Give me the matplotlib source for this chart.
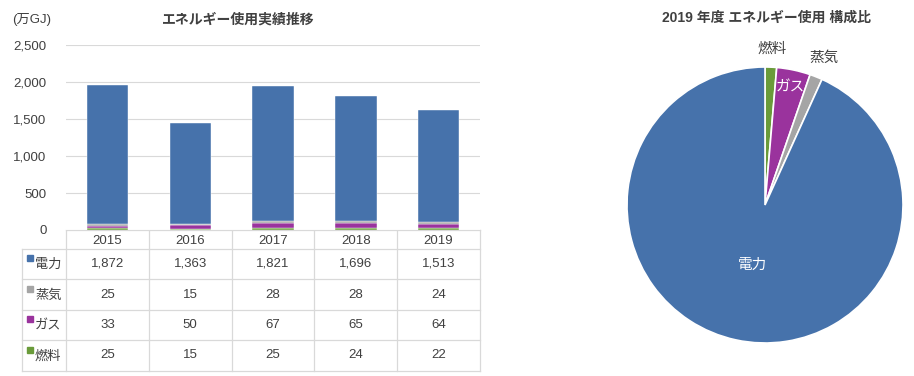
import numpy as np
import matplotlib
matplotlib.use("Agg")
from matplotlib import pyplot as plt

plt.rcParams['font.family'] = ['Liberation Sans', 'Noto Sans CJK JP', 'DejaVu Sans']

########################################################################
# Data
years = ['2015', '2016', '2017', '2018', '2019']
series_names = ['電力', '蒸気', 'ガス', '燃料']
denryoku = [1872, 1363, 1821, 1696, 1513]
jouki = [25, 15, 28, 28, 24]
gas = [33, 50, 67, 65, 64]
nenryo = [25, 15, 25, 24, 22]
yticks = [0, 500, 1000, 1500, 2000, 2500]
ytick_labels = ['0', '500', '1,000', '1,500', '2,000', '2,500']

pie_names = ['燃料', 'ガス', '蒸気', '電力']
pie_values = [nenryo[-1], gas[-1], jouki[-1], denryoku[-1]]

colors = {'電力': '#4672AB', '蒸気': '#A5A5A5', 'ガス': '#9A339D', '燃料': '#6A9B3A'}
txt = '#404040'
grid = '#D9D9D9'

W, H = 914, 376
fig = plt.figure(figsize=(W / 100, H / 100), dpi=100)

def fx(px):
  return px / W

def fy(py):
  return 1 - py / H

# bar chart area (pixels)
ax_l, ax_r, ax_t, ax_b = 66, 480, 45, 230
ax = fig.add_axes([fx(ax_l), fy(ax_b), fx(ax_r - ax_l), (ax_b - ax_t) / H])

x = np.arange(len(years))
bottom = np.zeros(len(years))
for name, vals in [('燃料', nenryo), ('ガス', gas), ('蒸気', jouki), ('電力', denryoku)]:
  ax.bar(x, vals, width=0.5, bottom=bottom, color=colors[name], edgecolor='white', linewidth=0.3, zorder=3)
  bottom += np.array(vals)

ax.set_xlim(-0.5, len(years) - 0.5)
ax.set_ylim(0, 2500)
ax.set_yticks(yticks)
ax.set_yticklabels(ytick_labels, fontsize=9.5, color=txt)
ax.set_xticks([])
ax.tick_params(axis='y', length=0, pad=14)
ax.grid(axis='y', color=grid, linewidth=0.8, zorder=0)
for s in ax.spines.values():
  s.set_visible(False)
fig.text(fx(238), fy(20), 'エネルギー使用実績推移', fontsize=10, fontweight='bold', color=txt,
         ha='center', va='center')
fig.text(fx(12), fy(20), '(万GJ)', fontsize=9.5, color=txt, va='center', ha='left')

# data table below the bars
tab = fig.add_axes([0, 0, 1, 1], zorder=-1)
tab.set_xlim(0, W)
tab.set_ylim(H, 0)
tab.axis('off')
col_w = (ax_r - ax_l) / len(years)
lab_l = 22
rows_y = [230, 249, 279, 310, 340, 371]
lw = 0.9
# horizontal lines
tab.plot([ax_l, ax_r], [rows_y[0]] * 2, color=grid, lw=lw)
for yy in rows_y[1:]:
  tab.plot([lab_l, ax_r], [yy, yy], color=grid, lw=lw)
# vertical lines
tab.plot([lab_l, lab_l], [rows_y[1], rows_y[-1]], color=grid, lw=lw)
for k in range(len(years) + 1):
  xx = ax_l + k * col_w
  tab.plot([xx, xx], [rows_y[0], rows_y[-1]], color=grid, lw=lw)

for k, yr in enumerate(years):
  tab.text(ax_l + (k + 0.5) * col_w, (rows_y[0] + rows_y[1]) / 2 + 1, yr,
           ha='center', va='center', fontsize=9.5, color=txt)

table_vals = {'電力': denryoku, '蒸気': jouki, 'ガス': gas, '燃料': nenryo}
for r, name in enumerate(series_names):
  yc = (rows_y[r + 1] + rows_y[r + 2]) / 2
  tab.add_patch(plt.Rectangle((27, yc - 9), 6, 6, color=colors[name]))
  tab.text(35, yc + 1, name, ha='left', va='center', fontsize=9.5, color=txt)
  for k, v in enumerate(table_vals[name]):
    tab.text(ax_l + (k + 0.5) * col_w, yc, f'{v:,}', ha='center', va='center', fontsize=9.5, color=txt)

# pie chart
cx, cy, rad = 765, 205, 138
pax = fig.add_axes([fx(cx - rad), fy(cy + rad), fx(2 * rad), 2 * rad / H])
wedges, _ = pax.pie(pie_values, colors=[colors[n] for n in pie_names], startangle=90,
                    counterclock=False, wedgeprops=dict(edgecolor='white', linewidth=1.2))
pax.set_xlim(-1, 1)
pax.set_ylim(-1, 1)

dists = {'燃料': 1.13, 'ガス': 0.87, '蒸気': 1.15, '電力': 0.44}
label_col = {'燃料': txt, 'ガス': 'white', '蒸気': txt, '電力': 'white'}
total = float(sum(pie_values))
cum = 0.0
for name, v in zip(pie_names, pie_values):
  mid = np.deg2rad(90 - (cum + v / 2) / total * 360)
  cum += v
  d = dists[name]
  pax.text(d * np.cos(mid), d * np.sin(mid), name, ha='center', va='center',
           fontsize=10.5, color=label_col[name])

fig.text(fx(766), fy(18), '2019 年度 エネルギー使用 構成比', ha='center', va='center',
         fontsize=10, fontweight='bold', color=txt)

fig.savefig('out.png', dpi=100)
